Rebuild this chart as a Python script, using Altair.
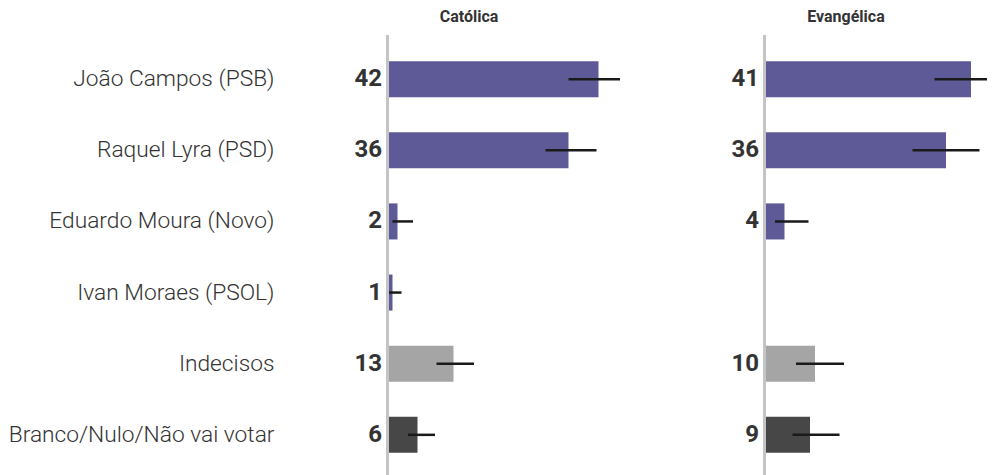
import altair as alt
import pandas as pd

categorias = [
    "João Campos (PSB)",
    "Raquel Lyra (PSD)",
    "Eduardo Moura (Novo)",
    "Ivan Moraes (PSOL)",
    "Indecisos",
    "Branco/Nulo/Não vai votar",
]
grupos = ["Candidato", "Candidato", "Candidato", "Candidato", "Indecisos", "Branco"]
religioes = ["Católica", "Evangélica"]

catolica_valor = [41.9, 35.9, 1.7, 0.7, 12.9, 5.7]
catolica_min = [35.9, 31.3, 0.7, 0.0, 9.5, 3.8]
catolica_max = [46.2, 41.5, 4.8, 2.5, 17.0, 9.2]

evangelica_valor = [41.0, 36.0, 3.7, None, 9.8, 8.8]
evangelica_min = [33.7, 29.3, 1.8, None, 6.0, 5.3]
evangelica_max = [48.3, 42.7, 8.5, None, 15.6, 14.7]

grupo_dominio = ["Candidato", "Indecisos", "Branco"]
cores = ["#5e5a98", "#a5a5a5", "#474747"]

rows = []
for rel, vals, mins, maxs in [
    ("Católica", catolica_valor, catolica_min, catolica_max),
    ("Evangélica", evangelica_valor, evangelica_min, evangelica_max),
]:
    for c, g, v, lo, hi in zip(categorias, grupos, vals, mins, maxs):
        if v is None:
            continue
        rows.append({"religiao": rel, "categoria": c, "grupo": g,
                     "valor": v, "minimo": lo, "maximo": hi})
df = pd.DataFrame(rows)

base = alt.Chart()

y_enc = alt.Y(
    "categoria:N",
    sort=categorias,
    scale=alt.Scale(domain=categorias, paddingInner=0.493, paddingOuter=0.283),
    axis=alt.Axis(
        title=None, ticks=False, domain=False, grid=False,
        labelFont="Roboto Light", labelFontWeight=300, labelFontSize=22.74,
        labelColor="#333333", labelPadding=115, labelLimit=400,
    ),
)
x_scale = alt.Scale(domain=[0, 32], nice=False, zero=True)

linha = base.mark_rule(color="#c4c4c4", strokeWidth=3).encode(
    x=alt.value(-1.5), y=alt.value(-6), y2=alt.value(450)
)
barras = base.mark_bar().encode(
    x=alt.X("valor:Q", scale=x_scale, axis=None),
    y=y_enc,
    color=alt.Color("grupo:N", scale=alt.Scale(domain=grupo_dominio, range=cores), legend=None),
)
erros = base.mark_rule(color="#1a1a1a", strokeWidth=2.5).encode(
    x=alt.X("minimo:Q", scale=x_scale, axis=None),
    x2="maximo:Q",
    y=y_enc,
)
rotulos = base.mark_text(
    align="right", baseline="middle", dx=-7,
    font="Roboto", fontWeight="bold", fontSize=24, color="#333333",
).encode(
    x=alt.datum(0, scale=x_scale, axis=None),
    y=y_enc,
    text=alt.Text("valor:Q", format=".0f"),
)

camadas = alt.layer(linha, barras, erros, rotulos).properties(width=160, height=432)

chart = alt.FacetChart(
    data=df,
    spec=camadas,
    facet=alt.Facet(
        "religiao:N",
        sort=religioes,
        header=alt.Header(
            title=None, labelFont="Roboto", labelFontWeight="bold",
            labelFontSize=16, labelColor="#333333", labelPadding=9,
        ),
    ),
    columns=2,
    spacing=217,
    bounds="flush",
).properties(
    padding={"top": 0, "left": 0, "right": -22, "bottom": 0},
    background="white",
).configure_view(stroke=None)

chart.save("out.html", embed_options={"renderer": "svg", "actions": False})
